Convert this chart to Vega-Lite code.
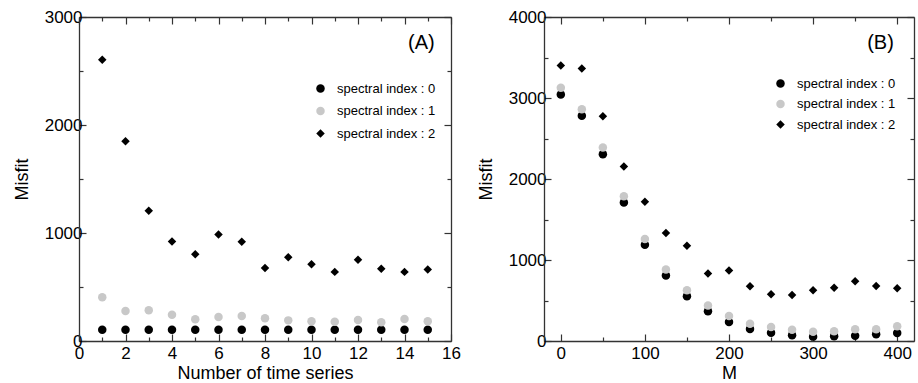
{
  "$schema": "https://vega.github.io/schema/vega-lite/v6.json",
  "padding": {"left": 13, "top": 8, "right": 2, "bottom": 0},
  "spacing": 16,
  "config": {
    "view": {"stroke": null},
    "font": "Liberation Sans",
    "axis": {
      "grid": false,
      "domainColor": "#333333",
      "domainWidth": 1.3,
      "tickColor": "#333333",
      "tickWidth": 1.2,
      "labelFont": "Liberation Sans",
      "labelFontSize": 17,
      "labelColor": "#000000",
      "titleFont": "Liberation Sans",
      "titleFontSize": 18,
      "titleFontWeight": "normal",
      "titleColor": "#000000",
      "labelFlush": false,
      "labelOverlap": false
    },
    "legend": {
      "orient": "none",
      "padding": 0,
      "labelFont": "Liberation Sans",
      "labelFontSize": 13,
      "labelColor": "#000000",
      "labelOffset": 10
    }
  },
  "datasets": {
    "A": [
      {"n": 1, "misfit": 105, "index": "0"}, {"n": 2, "misfit": 105, "index": "0"}, {"n": 3, "misfit": 105, "index": "0"},
      {"n": 4, "misfit": 105, "index": "0"}, {"n": 5, "misfit": 105, "index": "0"}, {"n": 6, "misfit": 105, "index": "0"},
      {"n": 7, "misfit": 105, "index": "0"}, {"n": 8, "misfit": 105, "index": "0"}, {"n": 9, "misfit": 105, "index": "0"},
      {"n": 10, "misfit": 105, "index": "0"}, {"n": 11, "misfit": 105, "index": "0"}, {"n": 12, "misfit": 105, "index": "0"},
      {"n": 13, "misfit": 105, "index": "0"}, {"n": 14, "misfit": 105, "index": "0"}, {"n": 15, "misfit": 105, "index": "0"},
      {"n": 1, "misfit": 405, "index": "1"}, {"n": 2, "misfit": 278, "index": "1"}, {"n": 3, "misfit": 284, "index": "1"},
      {"n": 4, "misfit": 244, "index": "1"}, {"n": 5, "misfit": 201, "index": "1"}, {"n": 6, "misfit": 222, "index": "1"},
      {"n": 7, "misfit": 231, "index": "1"}, {"n": 8, "misfit": 210, "index": "1"}, {"n": 9, "misfit": 191, "index": "1"},
      {"n": 10, "misfit": 182, "index": "1"}, {"n": 11, "misfit": 179, "index": "1"}, {"n": 12, "misfit": 194, "index": "1"},
      {"n": 13, "misfit": 173, "index": "1"}, {"n": 14, "misfit": 204, "index": "1"}, {"n": 15, "misfit": 182, "index": "1"},
      {"n": 1, "misfit": 2604, "index": "2"}, {"n": 2, "misfit": 1850, "index": "2"}, {"n": 3, "misfit": 1206, "index": "2"},
      {"n": 4, "misfit": 922, "index": "2"}, {"n": 5, "misfit": 804, "index": "2"}, {"n": 6, "misfit": 987, "index": "2"},
      {"n": 7, "misfit": 919, "index": "2"}, {"n": 8, "misfit": 677, "index": "2"}, {"n": 9, "misfit": 776, "index": "2"},
      {"n": 10, "misfit": 711, "index": "2"}, {"n": 11, "misfit": 640, "index": "2"}, {"n": 12, "misfit": 752, "index": "2"},
      {"n": 13, "misfit": 668, "index": "2"}, {"n": 14, "misfit": 640, "index": "2"}, {"n": 15, "misfit": 662, "index": "2"}
    ],
    "B": [
      {"M": 0, "misfit": 3044, "index": "0"}, {"M": 25, "misfit": 2780, "index": "0"}, {"M": 50, "misfit": 2305, "index": "0"},
      {"M": 75, "misfit": 1711, "index": "0"}, {"M": 100, "misfit": 1188, "index": "0"}, {"M": 125, "misfit": 808, "index": "0"},
      {"M": 150, "misfit": 553, "index": "0"}, {"M": 175, "misfit": 367, "index": "0"}, {"M": 200, "misfit": 235, "index": "0"},
      {"M": 225, "misfit": 148, "index": "0"}, {"M": 250, "misfit": 103, "index": "0"}, {"M": 275, "misfit": 70, "index": "0"},
      {"M": 300, "misfit": 54, "index": "0"}, {"M": 325, "misfit": 58, "index": "0"}, {"M": 350, "misfit": 66, "index": "0"},
      {"M": 375, "misfit": 82, "index": "0"}, {"M": 400, "misfit": 99, "index": "0"},
      {"M": 0, "misfit": 3126, "index": "1"}, {"M": 25, "misfit": 2862, "index": "1"}, {"M": 50, "misfit": 2388, "index": "1"},
      {"M": 75, "misfit": 1786, "index": "1"}, {"M": 100, "misfit": 1258, "index": "1"}, {"M": 125, "misfit": 883, "index": "1"},
      {"M": 150, "misfit": 627, "index": "1"}, {"M": 175, "misfit": 437, "index": "1"}, {"M": 200, "misfit": 309, "index": "1"},
      {"M": 225, "misfit": 214, "index": "1"}, {"M": 250, "misfit": 173, "index": "1"}, {"M": 275, "misfit": 140, "index": "1"},
      {"M": 300, "misfit": 115, "index": "1"}, {"M": 325, "misfit": 120, "index": "1"}, {"M": 350, "misfit": 144, "index": "1"},
      {"M": 375, "misfit": 144, "index": "1"}, {"M": 400, "misfit": 181, "index": "1"},
      {"M": 0, "misfit": 3402, "index": "2"}, {"M": 25, "misfit": 3365, "index": "2"}, {"M": 50, "misfit": 2775, "index": "2"},
      {"M": 75, "misfit": 2153, "index": "2"}, {"M": 100, "misfit": 1720, "index": "2"}, {"M": 125, "misfit": 1332, "index": "2"},
      {"M": 150, "misfit": 1175, "index": "2"}, {"M": 175, "misfit": 833, "index": "2"}, {"M": 200, "misfit": 870, "index": "2"},
      {"M": 225, "misfit": 676, "index": "2"}, {"M": 250, "misfit": 577, "index": "2"}, {"M": 275, "misfit": 569, "index": "2"},
      {"M": 300, "misfit": 627, "index": "2"}, {"M": 325, "misfit": 656, "index": "2"}, {"M": 350, "misfit": 738, "index": "2"},
      {"M": 375, "misfit": 680, "index": "2"}, {"M": 400, "misfit": 652, "index": "2"}
    ],
    "labelA": [{"n": 15.3, "misfit": 2760, "text": "(A)"}],
    "labelB": [{"M": 396, "misfit": 3680, "text": "(B)"}]
  },
  "hconcat": [
    {
      "width": 372,
      "height": 324,
      "resolve": {"axis": {"x": "independent", "y": "independent"}},
      "layer": [
        {
          "data": {"name": "A"},
          "mark": {"type": "point", "filled": true, "opacity": 1},
          "encoding": {
            "x": {
              "field": "n", "type": "quantitative",
              "scale": {"domain": [0, 16], "nice": false, "zero": false},
              "axis": {
                "orient": "bottom", "title": "Number of time series",
                "values": [0,1,2,3,4,5,6,7,8,9,10,11,12,13,14,15,16],
                "labelExpr": "datum.value % 2 === 0 ? datum.label : ''",
                "tickSize": {"condition": {"test": "datum.value % 2 === 0", "value": -7}, "value": -4},
                "labelPadding": 11, "titlePadding": 0, "format": "d"
              }
            },
            "y": {
              "field": "misfit", "type": "quantitative",
              "scale": {"domain": [0, 3000], "nice": false},
              "axis": {
                "orient": "left", "title": "Misfit",
                "values": [0,500,1000,1500,2000,2500,3000],
                "labelExpr": "datum.value % 1000 === 0 ? datum.label : ''",
                "tickSize": {"condition": {"test": "datum.value % 1000 === 0", "value": -7}, "value": -4},
                "labelPadding": 4, "titlePadding": 13, "format": "d"
              }
            },
            "color": {
              "field": "index", "type": "nominal",
              "scale": {"domain": ["0", "1", "2"], "range": ["#000000", "#c8c8c8", "#000000"]},
              "legend": {"title": null, "legendX": 235, "legendY": 65, "rowPadding": 8.5, "labelFontSize": 13, "labelExpr": "'spectral index : ' + datum.label"}
            },
            "shape": {
              "field": "index", "type": "nominal",
              "scale": {"domain": ["0", "1", "2"], "range": ["circle", "circle", "diamond"]},
              "legend": {"title": null, "legendX": 235, "legendY": 65, "rowPadding": 8.5, "labelFontSize": 13, "labelExpr": "'spectral index : ' + datum.label"}
            },
            "size": {
              "field": "index", "type": "nominal",
              "scale": {"domain": ["0", "1", "2"], "range": [72, 72, 90]},
              "legend": {"title": null, "legendX": 235, "legendY": 65, "rowPadding": 8.5, "labelFontSize": 13, "labelExpr": "'spectral index : ' + datum.label"}
            }
          }
        },
        {
          "data": {"name": "A"},
          "mark": {"type": "point", "opacity": 0},
          "encoding": {
            "x": {
              "field": "n", "type": "quantitative",
              "scale": {"domain": [0, 16], "nice": false, "zero": false},
              "axis": {
                "orient": "top", "title": null, "labels": false,
                "values": [0,1,2,3,4,5,6,7,8,9,10,11,12,13,14,15,16],
                "tickSize": {"condition": {"test": "datum.value % 2 === 0", "value": -7}, "value": -4}
              }
            },
            "y": {
              "field": "misfit", "type": "quantitative",
              "scale": {"domain": [0, 3000], "nice": false},
              "axis": {
                "orient": "right", "title": null, "labels": false,
                "values": [0,500,1000,1500,2000,2500,3000],
                "tickSize": {"condition": {"test": "datum.value % 1000 === 0", "value": -7}, "value": -4}
              }
            }
          }
        },
        {
          "data": {"name": "labelA"},
          "mark": {"type": "text", "align": "right", "baseline": "middle", "fontSize": 20, "font": "Liberation Sans", "color": "#000000"},
          "encoding": {
            "x": {"field": "n", "type": "quantitative", "scale": {"domain": [0, 16], "nice": false, "zero": false}, "axis": null},
            "y": {"field": "misfit", "type": "quantitative", "scale": {"domain": [0, 3000], "nice": false}, "axis": null},
            "text": {"field": "text"}
          }
        }
      ]
    },
    {
      "width": 370,
      "height": 324,
      "resolve": {"axis": {"x": "independent", "y": "independent"}},
      "layer": [
        {
          "data": {"name": "B"},
          "mark": {"type": "point", "filled": true, "opacity": 1},
          "encoding": {
            "x": {
              "field": "M", "type": "quantitative",
              "scale": {"domain": [-20, 420], "nice": false, "zero": false},
              "axis": {
                "orient": "bottom", "title": "M",
                "values": [0,50,100,150,200,250,300,350,400],
                "labelExpr": "datum.value % 100 === 0 ? datum.label : ''",
                "tickSize": {"condition": {"test": "datum.value % 100 === 0", "value": -7}, "value": -4},
                "labelPadding": 11, "titlePadding": 0, "format": "d"
              }
            },
            "y": {
              "field": "misfit", "type": "quantitative",
              "scale": {"domain": [0, 4000], "nice": false},
              "axis": {
                "orient": "left", "title": "Misfit",
                "values": [0,500,1000,1500,2000,2500,3000,3500,4000],
                "labelExpr": "datum.value % 1000 === 0 ? datum.label : ''",
                "tickSize": {"condition": {"test": "datum.value % 1000 === 0", "value": -7}, "value": -4},
                "labelPadding": 5, "titlePadding": 13, "format": "d"
              }
            },
            "color": {
              "field": "index", "type": "nominal",
              "scale": {"domain": ["0", "1", "2"], "range": ["#000000", "#c8c8c8", "#000000"]},
              "legend": {"title": null, "legendX": 230, "legendY": 60, "rowPadding": 6.5, "labelFontSize": 13, "labelExpr": "'spectral index : ' + datum.label"}
            },
            "shape": {
              "field": "index", "type": "nominal",
              "scale": {"domain": ["0", "1", "2"], "range": ["circle", "circle", "diamond"]},
              "legend": {"title": null, "legendX": 230, "legendY": 60, "rowPadding": 6.5, "labelFontSize": 13, "labelExpr": "'spectral index : ' + datum.label"}
            },
            "size": {
              "field": "index", "type": "nominal",
              "scale": {"domain": ["0", "1", "2"], "range": [72, 72, 90]},
              "legend": {"title": null, "legendX": 230, "legendY": 60, "rowPadding": 6.5, "labelFontSize": 13, "labelExpr": "'spectral index : ' + datum.label"}
            }
          }
        },
        {
          "data": {"name": "B"},
          "mark": {"type": "point", "opacity": 0},
          "encoding": {
            "x": {
              "field": "M", "type": "quantitative",
              "scale": {"domain": [-20, 420], "nice": false, "zero": false},
              "axis": {
                "orient": "top", "title": null, "labels": false,
                "values": [0,50,100,150,200,250,300,350,400],
                "tickSize": {"condition": {"test": "datum.value % 100 === 0", "value": -7}, "value": -4}
              }
            },
            "y": {
              "field": "misfit", "type": "quantitative",
              "scale": {"domain": [0, 4000], "nice": false},
              "axis": {
                "orient": "right", "title": null, "labels": false,
                "values": [0,500,1000,1500,2000,2500,3000,3500,4000],
                "tickSize": {"condition": {"test": "datum.value % 1000 === 0", "value": -7}, "value": -4}
              }
            }
          }
        },
        {
          "data": {"name": "labelB"},
          "mark": {"type": "text", "align": "right", "baseline": "middle", "fontSize": 20, "font": "Liberation Sans", "color": "#000000"},
          "encoding": {
            "x": {"field": "M", "type": "quantitative", "scale": {"domain": [-20, 420], "nice": false, "zero": false}, "axis": null},
            "y": {"field": "misfit", "type": "quantitative", "scale": {"domain": [0, 4000], "nice": false}, "axis": null},
            "text": {"field": "text"}
          }
        }
      ]
    }
  ],
  "resolve": {
    "scale": {"x": "independent", "y": "independent", "color": "independent", "shape": "independent", "size": "independent"},
    "legend": {"color": "independent", "shape": "independent", "size": "independent"}
  }
}
